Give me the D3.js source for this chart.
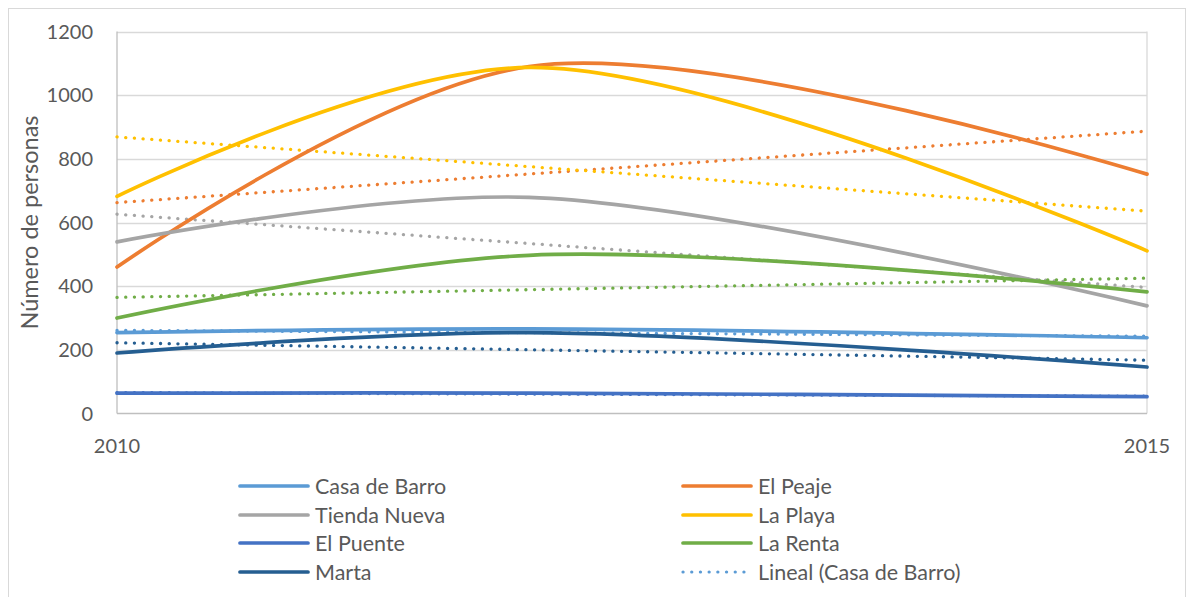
<!DOCTYPE html>
<html><head><meta charset="utf-8">
<script src="https://cdn.jsdelivr.net/npm/d3@7"></script>
<style>html,body{margin:0;padding:0;background:#fff;}svg{display:block;font-family:Lato,"Open Sans",sans-serif;}</style>
</head><body>
<svg id="c" width="1187" height="597"></svg>
<script>
const years = [2010, 2012, 2015];
const seriesNames = ["Casa de Barro","El Peaje","Tienda Nueva","La Playa","El Puente","La Renta","Marta"];
const casaDeBarro = [254, 266, 238];
const elPeaje = [460, 1090, 752];
const tiendaNueva = [539, 679, 338];
const laPlaya = [682, 1087, 511];
const elPuente = [64, 64, 53];
const laRenta = [300, 497, 382];
const marta = [190, 254, 146];
const yTicks = [0,200,400,600,800,1000,1200];
const xTicks = [2010, 2015];
const legendLabels = ["Casa de Barro","El Peaje","Tienda Nueva","La Playa","El Puente","La Renta","Marta","Lineal (Casa de Barro)"];

const colors = {"Casa de Barro":"#5B9BD5","El Peaje":"#ED7D31","Tienda Nueva":"#A5A5A5","La Playa":"#FFC000","El Puente":"#4472C4","La Renta":"#70AD47","Marta":"#255E91"};
const values = [casaDeBarro, elPeaje, tiendaNueva, laPlaya, elPuente, laRenta, marta];
const series = seriesNames.map((n,i)=>({name:n, pts: years.map((y,j)=>({x:y, y:values[i][j]}))}));

const svg = d3.select("#c");
svg.append("rect").attr("x",8.5).attr("y",8.5).attr("width",1177).attr("height",600).attr("fill","#fff").attr("stroke","#d9d9d9");

const L=117, R=1147, T=31.5, B=413.5;
const x = d3.scaleLinear().domain([2010,2015]).range([L,R]);
const y = d3.scaleLinear().domain([0,1200]).range([B,T]);

svg.append("g").selectAll("line").data(yTicks.filter(d=>d>0)).join("line")
  .attr("x1",L).attr("x2",R).attr("y1",d=>Math.round(y(d))+0.5).attr("y2",d=>Math.round(y(d))+0.5)
  .attr("stroke","#d9d9d9").attr("stroke-width",1.3);
svg.append("line").attr("x1",R).attr("x2",R).attr("y1",T).attr("y2",B).attr("stroke","#d9d9d9").attr("stroke-width",1.3);
svg.append("line").attr("x1",L).attr("x2",R).attr("y1",B).attr("y2",B).attr("stroke","#bfbfbf").attr("stroke-width",1.3);
svg.append("line").attr("x1",L).attr("x2",L).attr("y1",T).attr("y2",B).attr("stroke","#bfbfbf").attr("stroke-width",1.3);

svg.append("g").selectAll("text").data(yTicks).join("text")
  .attr("x",93).attr("y",d=>y(d)).attr("dy","0.36em").attr("text-anchor","end")
  .attr("font-size",20).attr("fill","#595959").text(d=>d);
svg.append("g").selectAll("text").data(xTicks).join("text")
  .attr("x",d=>x(d)).attr("y",446).attr("dy","0.36em").attr("text-anchor","middle")
  .attr("font-size",20).attr("fill","#595959").text(d=>d);
svg.append("text").attr("transform",`translate(30,${(T+B)/2}) rotate(-90)`).attr("text-anchor","middle")
  .attr("dy","0.36em").attr("font-size",23.5).attr("fill","#595959").text("Número de personas");

function fit(pts){
  const mx=d3.mean(pts,p=>p.x), my=d3.mean(pts,p=>p.y);
  const s=d3.sum(pts,p=>(p.x-mx)*(p.y-my))/d3.sum(pts,p=>(p.x-mx)**2);
  return xx=>my+s*(xx-mx);
}
const lineGen = d3.line().x(d=>x(d.x)).y(d=>y(d.y));
const gT = svg.append("g");
series.forEach(s=>{
  const f=fit(s.pts);
  gT.append("path").attr("d",lineGen([{x:2010,y:f(2010)},{x:2015,y:f(2015)}]))
    .attr("fill","none").attr("stroke",colors[s.name]).attr("stroke-width",3.3)
    .attr("stroke-linecap","round").attr("stroke-dasharray","0.1 8.6");
});
const smooth = d3.line().x(d=>x(d.x)).y(d=>y(d.y)).curve(d3.curveCatmullRom.alpha(0.5));
const gS = svg.append("g");
series.forEach(s=>{
  gS.append("path").attr("d",smooth(s.pts)).attr("fill","none").attr("stroke",colors[s.name])
    .attr("stroke-width",3.7).attr("stroke-linecap","round");
});

const colX=[240,683], rowY=[486,515,543,572];
legendLabels.forEach((lab,i)=>{
  const cx=colX[i%2], cy=rowY[Math.floor(i/2)];
  const isTrend = lab.startsWith("Lineal");
  const col = isTrend ? colors["Casa de Barro"] : colors[lab];
  svg.append("line").attr("x1",cx).attr("x2",cx+68).attr("y1",cy).attr("y2",cy)
    .attr("stroke",col).attr("stroke-width",isTrend?3.2:3.7).attr("stroke-linecap","round")
    .attr("stroke-dasharray",isTrend?"0.1 8.6":null);
  svg.append("text").attr("x",cx+75).attr("y",cy).attr("dy","0.36em").attr("font-size",21.5)
    .attr("fill","#595959").text(lab);
});
</script>
</body></html>
